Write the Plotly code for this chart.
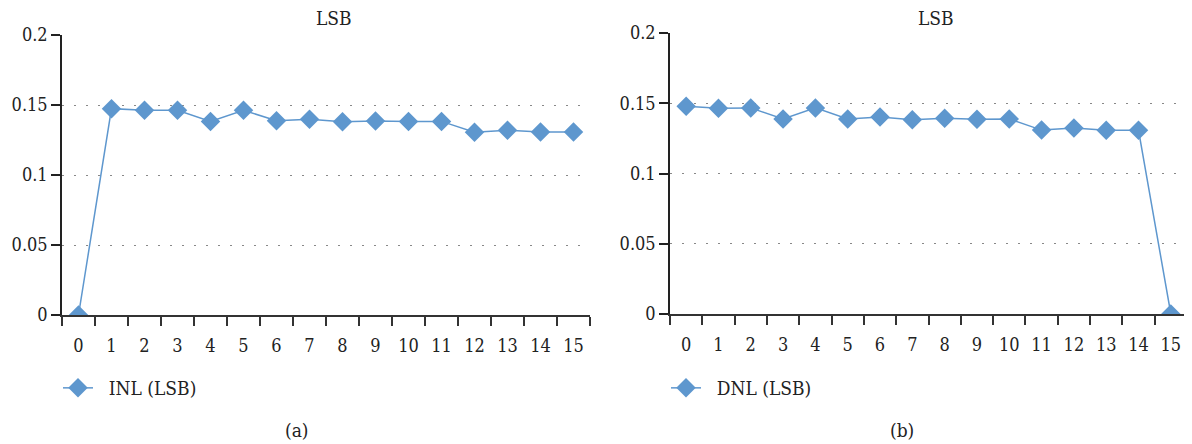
import plotly.graph_objects as go

codes = [str(i) for i in range(16)]
inl = [0, 0.1474, 0.1462, 0.1462, 0.1383, 0.1462, 0.1388, 0.1398, 0.1381, 0.1386,
       0.1383, 0.1383, 0.1305, 0.1319, 0.1307, 0.1307]
dnl = [0.1478, 0.1464, 0.1467, 0.1388, 0.1467, 0.1388, 0.1402, 0.1383, 0.1393, 0.1386,
       0.1388, 0.1309, 0.1323, 0.1307, 0.1307, 0]
y_ticks = [0, 0.05, 0.1, 0.15, 0.2]
y_labels = ["0", "0.05", "0.1", "0.15", "0.2"]

OFF = 8  # page body margin
W, H = 1192 - OFF, 444 - OFF
FONT = "DejaVu Serif Condensed, DejaVu Serif, serif"
BLUE = "#5E97CE"
TXT = "#222"


def px(x):
    return (x - OFF) / W


def py(y):
    return 1 - (y - OFF) / H


fig = go.Figure()
fig.add_trace(go.Scatter(x=codes, y=inl, mode="lines+markers", name="\u00a0\u00a0INL (LSB)",
                         line=dict(color=BLUE, width=1.5),
                         marker=dict(symbol="diamond", size=15, color=BLUE),
                         xaxis="x", yaxis="y", legend="legend"))
fig.add_trace(go.Scatter(x=codes, y=dnl, mode="lines+markers", name="\u00a0\u00a0DNL (LSB)",
                         line=dict(color=BLUE, width=1.5),
                         marker=dict(symbol="diamond", size=15, color=BLUE),
                         xaxis="x2", yaxis="y2", legend="legend2"))


def xax(domain, anchor):
    return dict(domain=domain, anchor=anchor, type="category", tickson="boundaries",
                range=[-0.5, 15.5], autorange=False, automargin=False,
                ticks="outside", ticklen=9, tickwidth=1.5, tickcolor="#333",
                ticklabelstandoff=13,
                showline=True, linecolor="#333", linewidth=2,
                showgrid=False, zeroline=False,
                tickfont=dict(family=FONT, size=18, color=TXT),
                fixedrange=True)


def yax(domain, anchor):
    return dict(domain=domain, anchor=anchor, range=[0, 0.2], autorange=False,
                automargin=False,
                tickvals=y_ticks, ticktext=y_labels,
                ticks="outside", ticklen=9, tickwidth=1.5, tickcolor=TXT,
                showline=True, linecolor=TXT, linewidth=1.5,
                showgrid=True, gridcolor="#888", gridwidth=1.2, griddash="2px,10px",
                zeroline=False,
                tickfont=dict(family=FONT, size=18, color=TXT),
                fixedrange=True)


def ann(text, x, y):
    return dict(text=text, x=px(x), y=py(y), xref="paper", yref="paper",
                xanchor="center", yanchor="middle", showarrow=False,
                font=dict(family=FONT, size=19, color=TXT))


fig.update_layout(
    width=W, height=H,
    margin=dict(l=0, r=0, t=0, b=0, pad=0, autoexpand=False),
    paper_bgcolor="white", plot_bgcolor="white",
    font=dict(family=FONT, size=19, color=TXT),
    xaxis=xax([px(62), px(590)], "y"),
    yaxis=yax([py(315), py(35)], "x"),
    xaxis2=xax([px(670), px(1187)], "y2"),
    yaxis2=yax([py(314), py(33)], "x2"),
    legend=dict(x=px(58), y=py(388), xanchor="left", yanchor="middle",
                font=dict(family=FONT, size=19, color=TXT), bgcolor="rgba(0,0,0,0)"),
    legend2=dict(x=px(666), y=py(388), xanchor="left", yanchor="middle",
                 font=dict(family=FONT, size=19, color=TXT), bgcolor="rgba(0,0,0,0)"),
    showlegend=True,
    annotations=[
        ann("LSB", 334, 18),
        ann("LSB", 936, 18),
        ann("(a)", 297, 430),
        ann("(b)", 902, 430),
    ],
)

fig.write_html("out.html")
